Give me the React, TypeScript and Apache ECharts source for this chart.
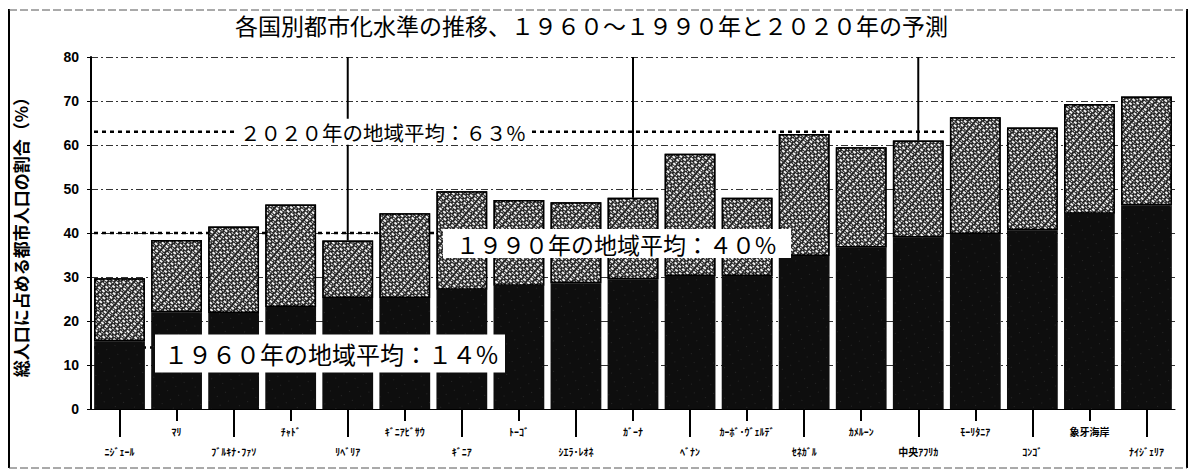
import React, { useEffect, useRef } from "react";
import * as echarts from "echarts";

const categories = [
  "ﾆｼﾞｪｰﾙ", "ﾏﾘ", "ﾌﾞﾙｷﾅ･ﾌｧｿ", "ﾁｬﾄﾞ", "ﾘﾍﾞﾘｱ", "ｷﾞﾆｱﾋﾞｻｳ", "ｷﾞﾆｱ", "ﾄｰｺﾞ",
  "ｼｴﾗ･ﾚｵﾈ", "ｶﾞｰﾅ", "ﾍﾞﾅﾝ", "ｶｰﾎﾞ･ｳﾞｪﾙﾃﾞ", "ｾﾈｶﾞﾙ", "ｶﾒﾙｰﾝ", "中央ｱﾌﾘｶ",
  "ﾓｰﾘﾀﾆｱ", "ｺﾝｺﾞ", "象牙海岸", "ﾅｲｼﾞｪﾘｱ",
];
const urban1990 = [15.4, 22, 21.8, 23.2, 25.2, 25.2, 27.1, 28, 28.6, 29.5, 30.2, 30.2, 34.8, 36.7, 39, 39.8, 40.6, 44.4, 46.3];
const urban2020 = [29.7, 38.4, 41.5, 46.5, 38.3, 44.5, 49.5, 47.5, 47, 48, 58, 48, 62.5, 59.5, 61, 66.3, 64, 69.3, 71];
const yTicks = [0, 10, 20, 30, 40, 50, 60, 70, 80];
const avg1960 = 14;
const avg1990 = 40;
const avg2020 = 63;
const leaderBars = [4, 9, 14];

const titleText = "各国別都市化水準の推移、１９６０～１９９０年と２０２０年の予測";
const yName = "総人口に占める都市人口の割合（%）";
const label2020 = "２０２０年の地域平均：６３%";
const label1990 = "１９９０年の地域平均：４０%";
const label1960 = "１９６０年の地域平均：１４%";

const JP = '"Noto Sans CJK JP", sans-serif';

export default function App() {
  const ref = useRef<HTMLDivElement>(null);
  useEffect(() => {
    if (!ref.current) return;
    const chart = echarts.init(ref.current, null, { renderer: "svg" });
    const increment = urban2020.map((v, i) => +(v - urban1990[i]).toFixed(2));
    const option: any = {
      animation: false,
      backgroundColor: "#ffffff",
      title: {
        text: titleText,
        left: 230,
        top: 8,
        textStyle: { fontFamily: JP, fontSize: 23, fontWeight: "normal", color: "#000" },
      },
      grid: { left: 91, right: 24, top: 57, bottom: 66 },
      xAxis: [
        {
          type: "category",
          data: categories,
          position: "bottom",
          axisLine: { show: true, lineStyle: { color: "#000", width: 1 } },
          axisTick: {
            show: true,
            alignWithLabel: true,
            length: 28,
            interval: (i: number) => i % 2 === 0,
            lineStyle: { color: "#000", width: 2 },
          },
          axisLabel: {
            interval: (i: number) => i % 2 === 0,
            margin: 37,
            fontFamily: JP,
            fontSize: 10,
            fontWeight: "bold",
            color: "#000",
          },
        },
        {
          type: "category",
          data: categories,
          position: "bottom",
          axisLine: { show: false },
          axisTick: {
            show: true,
            alignWithLabel: true,
            length: 12,
            interval: (i: number) => i % 2 === 1,
            lineStyle: { color: "#000", width: 2 },
          },
          axisLabel: {
            interval: (i: number) => i % 2 === 1,
            margin: 17,
            fontFamily: JP,
            fontSize: 10,
            fontWeight: "bold",
            color: "#000",
          },
        },
      ],
      yAxis: {
        type: "value",
        min: yTicks[0],
        max: yTicks[yTicks.length - 1],
        interval: 10,
        name: yName,
        nameLocation: "middle",
        nameRotate: 90,
        nameGap: 62,
        nameTextStyle: { fontFamily: JP, fontSize: 17, fontWeight: "bold", color: "#000" },
        axisLine: { show: true, lineStyle: { color: "#000", width: 2 } },
        axisTick: { show: true, length: 4, lineStyle: { color: "#000" } },
        axisLabel: { fontFamily: "Liberation Sans, Arial", fontSize: 14, fontWeight: "bold", color: "#000", margin: 12 },
        splitLine: { show: true, lineStyle: { color: "#333", width: 1, type: [7, 3, 2, 3] } },
      },
      series: [
        {
          name: "1990年",
          type: "bar",
          stack: "total",
          xAxisIndex: 0,
          data: urban1990,
          barCategoryGap: "11%",
          itemStyle: {
            color: "#0e0e0e",
            decal: {
              symbol: "rect",
              symbolSize: 0.6,
              color: "rgba(255,255,255,0.35)",
              dashArrayX: [[1, 11], [0, 6, 1, 5]],
              dashArrayY: [1, 6],
              rotation: 0.4,
            },
          },
          z: 2,
        },
        {
          name: "2020年",
          type: "bar",
          stack: "total",
          xAxisIndex: 0,
          data: increment,
          barCategoryGap: "11%",
          itemStyle: {
            color: "#262626",
            borderColor: "#000",
            borderWidth: 1.5,
            decal: {
              symbol: "rect",
              symbolSize: 1,
              color: "rgba(255,255,255,0.95)",
              dashArrayX: [[3, 2], [1, 2, 2, 1]],
              dashArrayY: [2, 1, 1, 1],
              rotation: 0.7,
            },
          },
          z: 2,
        },
      ],
    };
    chart.setOption(option);

    const yPx = (v: number) => chart.convertToPixel({ yAxisIndex: 0 }, v) as number;
    const xPx = (i: number) => chart.convertToPixel({ xAxisIndex: 0 }, categories[i]) as number;
    const band = xPx(1) - xPx(0);
    const left = xPx(0) - band / 2;
    const y2020 = yPx(avg2020);
    const y1990 = yPx(avg1990);
    const y1960 = yPx(avg1960);
    const dots = { stroke: "#000", lineWidth: 2.5, lineDash: [4, 4] };

    const graphic: any[] = [
      // frame
      { type: "line", shape: { x1: 9, y1: 9, x2: 9, y2: 468 }, style: { stroke: "#000", lineWidth: 2 }, z: 50 },
      { type: "line", shape: { x1: 1187, y1: 9, x2: 1187, y2: 468 }, style: { stroke: "#000", lineWidth: 2 }, z: 50 },
      { type: "line", shape: { x1: 9, y1: 10, x2: 1187, y2: 10 }, style: { stroke: "#555", lineWidth: 1, lineDash: [8, 3] }, z: 50 },
      { type: "line", shape: { x1: 9, y1: 468, x2: 1187, y2: 468 }, style: { stroke: "#555", lineWidth: 1, lineDash: [8, 3] }, z: 50 },
      // average lines (behind bars)
      { type: "line", shape: { x1: left + 3, y1: y2020, x2: 236, y2: y2020 }, style: dots, z: 1 },
      { type: "line", shape: { x1: 532, y1: y2020, x2: xPx(14) + band / 2, y2: y2020 }, style: dots, z: 1 },
      { type: "line", shape: { x1: left + 3, y1: y1990, x2: 445, y2: y1990 }, style: dots, z: 1 },
      { type: "line", shape: { x1: left + 3, y1: y1960, x2: 157, y2: y1960 }, style: dots, z: 1 },
    ];
    leaderBars.forEach((i) => {
      graphic.push({
        type: "line",
        shape: { x1: xPx(i), y1: yPx(80), x2: xPx(i), y2: yPx(urban2020[i]) },
        style: { stroke: "#000", lineWidth: 2 },
        z: 5,
      });
    });
    // labels
    graphic.push(
      { type: "rect", shape: { x: 237, y: y2020 - 13, width: 294, height: 26 }, style: { fill: "#fff" }, z: 20 },
      {
        type: "text", x: 240, y: y2020,
        style: { text: label2020, font: `20.5px ${JP}`, fill: "#000", verticalAlign: "middle", textVerticalAlign: "middle" },
        z: 21,
      },
      { type: "rect", shape: { x: 443, y: y1990 - 4, width: 348, height: 29 }, style: { fill: "#fff" }, z: 20 },
      {
        type: "text", x: 456, y: y1990 + 10.5,
        style: { text: label1990, font: `23px ${JP}`, fill: "#000", verticalAlign: "middle", textVerticalAlign: "middle" },
        z: 21,
      },
      { type: "rect", shape: { x: 155, y: y1960 - 13, width: 350, height: 38 }, style: { fill: "#fff" }, z: 20 },
      {
        type: "text", x: 164, y: y1960 + 6,
        style: { text: label1960, font: `24px ${JP}`, fill: "#000", verticalAlign: "middle", textVerticalAlign: "middle" },
        z: 21,
      }
    );
    chart.setOption({ graphic });

    return () => chart.dispose();
  }, []);
  return <div ref={ref} style={{ position: "absolute", left: 0, top: 0, width: 1199, height: 475 }} />;
}
